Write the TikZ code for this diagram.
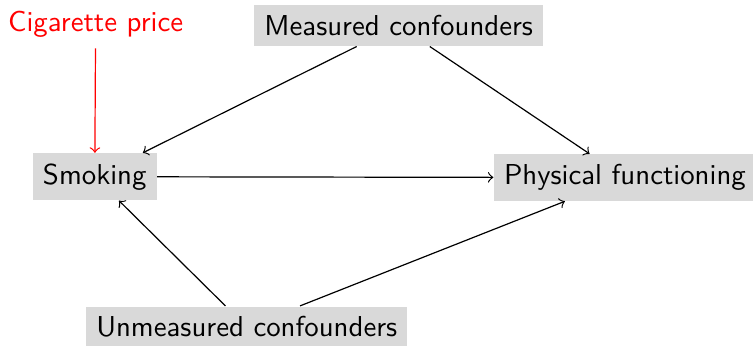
\documentclass[tikz,border=0pt]{standalone}
\usepackage{tikz}
\usepackage{xcolor}
\definecolor{boxgrey}{rgb}{0.851,0.851,0.851}
\renewcommand{\familydefault}{\sfdefault}

\begin{document}
\begin{tikzpicture}[every node/.style={font=\fontsize{9.6pt}{11.5pt}\selectfont}, var/.style={fill=boxgrey}, iv/.style={text=red}]
            \useasboundingbox (0,0) rectangle (8.82,-4.05);
            \node [iv] (c) at (1.12,-0.29) {Cigarette price};
            \node [var] (m) at (4.67,-0.30) {Measured confounders};
            \node [var] (s) at (1.11,-2.07) {Smoking};
            \node [var] (p) at (7.32,-2.08) {Physical functioning};
            \node [var] (u) at (2.89,-3.83) {Unmeasured confounders};
            \draw [->, red] (c) -- (s);
            \draw [->] (m) -- (s);
            \draw [->] (m) -- (p);
            \draw [->] (s) -- (p);
            \draw [->] (u) -- (s);
            \draw [->] (u) -- (p);
        \end{tikzpicture}
\end{document}
